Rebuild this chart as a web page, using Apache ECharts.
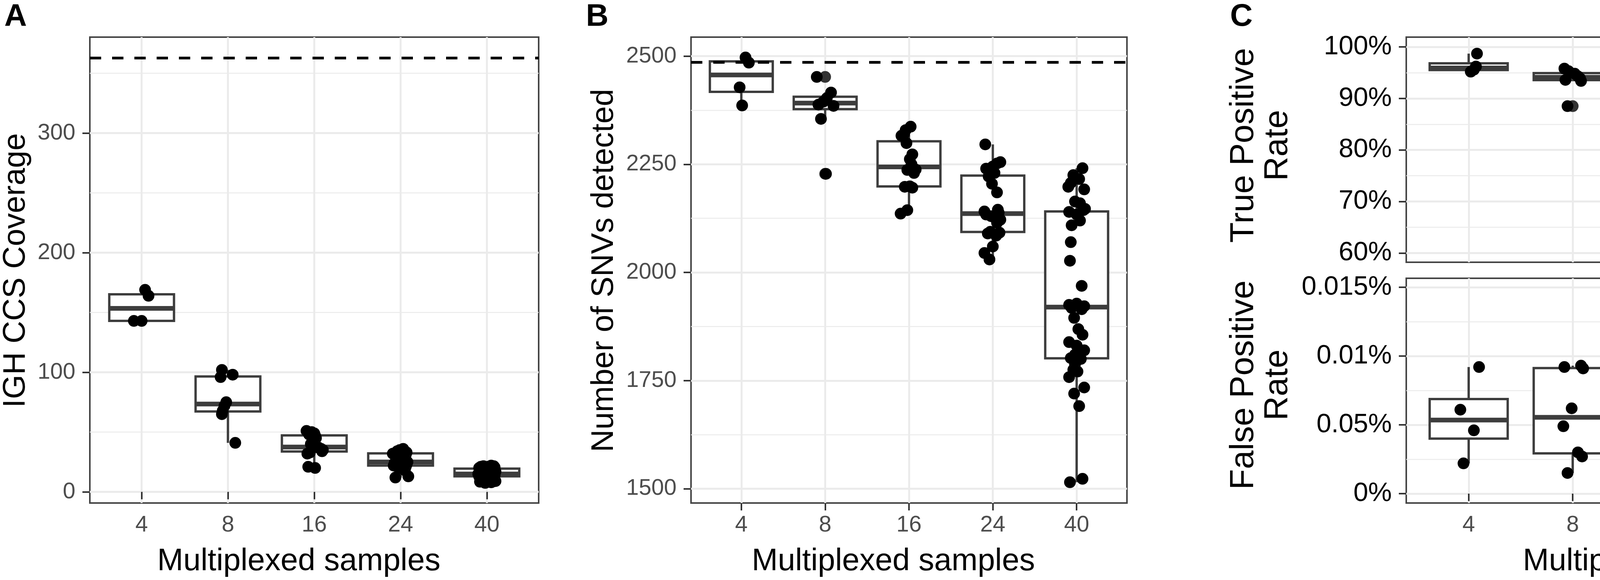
<!DOCTYPE html>
<html>
<head>
<meta charset="utf-8">
<script src="https://cdn.jsdelivr.net/npm/echarts@6/dist/echarts.min.js"></script>
<style>
  html, body { margin: 0; padding: 0; background: #fff; }
  #chart { width: 4997px; height: 1484px; }
</style>
</head>
<body>
<div id="chart"></div>
<script>
"use strict";

var xCats = ['4', '8', '16', '24', '40'];

// A - IGH CCS coverage
var covVals = [
  [169, 164, 143, 143],
  [102, 98, 96, 75, 72, 68, 65, 41],
  [51, 50, 49, 48, 47, 45, 40, 38, 37, 36, 35, 34, 33, 32, 21, 20],
  [36, 35, 34, 34, 33, 33, 32, 31, 30, 28, 26, 25, 25, 24, 24, 23, 23, 22, 22, 21, 20, 18, 13, 12],
  [22, 21.5, 21.5, 21, 21, 20.5, 20.5, 20, 20, 19.5, 19.5, 19, 18.5, 18, 17.5, 17, 16.5, 16, 15.5, 15,
   15, 15, 15, 14.5, 14.5, 14, 14, 14, 13.5, 13, 13, 12.5, 12, 11.5, 11, 10, 9, 8.5, 8, 7.5]
];
var covJit = [
  [0.04, 0.08, -0.09, 0.0],
  [-0.07, 0.055, -0.085, -0.02, -0.04, -0.06, -0.07, 0.085],
  [-0.09, -0.03, 0.0, -0.06, 0.01, 0.02, -0.04, 0.0, 0.05, 0.08, 0.1, 0.09, -0.05, -0.08, -0.07, 0.01],
  [0.03, -0.01, 0.05, -0.04, 0.07, 0.01, -0.09, 0.06, -0.06, 0.02, -0.03, 0.08, 0.04, 0.0, -0.07, 0.07,
   -0.05, 0.03, -0.08, 0.06, -0.02, 0.05, 0.09, -0.06],
  [0.05, -0.04, 0.08, 0.01, -0.07, 0.09, -0.02, 0.04, -0.09, 0.06, 0.0, -0.05, 0.07, -0.08, 0.03, 0.1,
   -0.03, 0.02, -0.06, 0.08, -0.1, 0.05, 0.0, -0.04, 0.07, 0.09, -0.07, 0.03, -0.01, 0.06, -0.09, 0.04,
   -0.06, 0.08, 0.01, -0.03, 0.1, -0.08, 0.05, -0.02]
];
var covRef = 363;
var covTicks = [0, 100, 200, 300];
var covMinor = [50, 150, 250, 350];

// B - SNVs detected
var snvVals = [
  [2497, 2485, 2428, 2386],
  [2452, 2416, 2403, 2395, 2388, 2385, 2355, 2228],
  [2337, 2329, 2320, 2316, 2299, 2273, 2262, 2250, 2238, 2237, 2230, 2199, 2198, 2196, 2144, 2136],
  [2296, 2255, 2252, 2245, 2240, 2230, 2222, 2205, 2185, 2145, 2141, 2138, 2134, 2130, 2126, 2122,
   2115, 2094, 2092, 2090, 2085, 2060, 2045, 2030],
  [2241, 2225, 2216, 2207, 2198, 2192, 2164, 2160, 2147, 2144, 2140, 2134, 2120, 2109, 2070, 2027,
   1969, 1928, 1925, 1922, 1918, 1915, 1895, 1869, 1856, 1839, 1831, 1820, 1810, 1802, 1800, 1788,
   1775, 1771, 1758, 1734, 1720, 1691, 1523, 1515]
];
var snvJit = [
  [0.05, 0.09, -0.02, 0.01],
  [-0.1, 0.07, 0.02, -0.02, -0.08, 0.1, -0.05, 0.01],
  [0.02, -0.04, -0.06, -0.09, -0.03, 0.04, 0.01, 0.03, 0.08, -0.02, 0.06, 0.01, -0.05, 0.04, -0.02, -0.1],
  [-0.09, 0.09, 0.05, 0.0, -0.08, 0.02, -0.05, -0.01, 0.05, 0.06, -0.1, 0.07, -0.08, -0.02, 0.03, 0.09,
   0.05, -0.03, 0.08, -0.06, 0.04, 0.0, -0.1, -0.04],
  [0.07, -0.04, 0.03, -0.07, -0.1, 0.09, -0.02, 0.04, 0.1, 0.08, -0.09, 0.0, 0.04, -0.06, -0.07, -0.08,
   0.06, 0.0, -0.09, 0.09, -0.06, 0.06, -0.03, 0.02, 0.07, -0.09, 0.0, 0.09, -0.02, -0.07, 0.05, -0.02,
   -0.04, 0.01, -0.09, 0.09, -0.03, 0.03, 0.07, -0.08]
];
var snvRef = 2486;
var snvTicks = [1500, 1750, 2000, 2250, 2500];
var snvMinor = [1625, 1875, 2125, 2375];

// C top - true positive rate (%)
var tprVals = [
  [98.7, 96.2, 95.6, 95.2],
  [95.8, 95.3, 94.8, 94.3, 93.9, 93.6, 93.4, 88.5],
  [93.5, 92.2, 91.6, 91.2, 91.0, 90.6, 90.2, 89.8, 89.5, 89.0, 88.4, 88.1, 87.9, 87.4, 84.4, 84.2],
  [90.8, 90.3, 89.9, 89.4, 89.0, 88.6, 88.2, 87.6, 87.0, 86.2, 85.7, 85.4, 85.0, 84.7, 84.5, 84.3,
   84.0, 83.7, 83.6, 83.3, 82.9, 82.5, 81.6, 80.2],
  [87.9, 87.6, 87.4, 87.1, 86.8, 86.5, 86.2, 85.8, 85.3, 84.9, 84.3, 84.0, 83.6, 83.0, 82.4, 80.7,
   78.8, 77.8, 76.9, 76.7, 75.3, 74.7, 74.2, 73.6, 73.2, 72.8, 72.4, 72.0, 71.7, 71.6, 71.4, 71.2,
   71.0, 70.8, 70.3, 69.8, 69.2, 67.4, 60.8, 60.4]
];
var tprJit = [
  [0.08, 0.07, 0.05, 0.02],
  [-0.08, -0.04, 0.02, 0.05, 0.07, -0.07, 0.08, -0.05],
  [0.1, -0.09, 0.06, 0.08, 0.1, 0.02, 0.08, 0.06, -0.1, 0.0, 0.05, 0.04, 0.09, 0.07, 0.0, -0.05],
  [0.0, 0.04, -0.07, 0.07, -0.03, 0.0, 0.05, -0.07, 0.03, -0.04, 0.06, 0.05, -0.02, -0.09, 0.08, 0.02,
   -0.02, 0.09, -0.05, 0.04, 0.1, 0.06, -0.09, 0.03],
  [0.05, -0.1, 0.08, -0.02, 0.1, 0.07, -0.06, -0.02, 0.09, -0.08, -0.07, 0.03, 0.03, 0.06, -0.09, 0.0,
   -0.05, 0.02, 0.03, -0.01, -0.08, -0.03, 0.05, 0.07, -0.07, 0.05, -0.04, 0.09, -0.05, 0.02, 0.07, -0.1,
   0.04, 0.08, -0.03, 0.01, -0.1, -0.04, -0.07, 0.04]
];
var tprTicks = [60, 70, 80, 90, 100];
var tprLabels = ['60%', '70%', '80%', '90%', '100%'];
var tprMinor = [65, 75, 85, 95];

// C bottom - false positive rate
var fprVals = [
  [0.0092, 0.0061, 0.0046, 0.0022],
  [0.0093, 0.0092, 0.0091, 0.0062, 0.0049, 0.0030, 0.0027, 0.0015],
  [0.0058, 0.0050, 0.0044, 0.0042, 0.0041, 0.0038, 0.0033, 0.0030, 0.0029, 0.00255, 0.0021, 0.0020,
   0.0018, 0.0014, 0.0013, 0.0005],
  [0.0057, 0.0054, 0.0047, 0.0045, 0.0042, 0.0038, 0.0036, 0.0035, 0.0034, 0.0033, 0.0032, 0.0031,
   0.0029, 0.0027, 0.0025, 0.00235, 0.0022, 0.00205, 0.0020, 0.0019, 0.0018, 0.0017, 0.00094, 0.00035],
  [0.0118, 0.0116, 0.0067, 0.0063, 0.0055, 0.0052, 0.0048, 0.0046, 0.0045, 0.0043, 0.0042, 0.0039,
   0.0036, 0.0034, 0.0032, 0.0031, 0.0030, 0.0029, 0.0028, 0.0027, 0.0026, 0.0025, 0.0023, 0.0022,
   0.0021, 0.0020, 0.0019, 0.0018, 0.0017, 0.0016, 0.0015, 0.0013, 0.0011, 0.0009, 0.0008, 0.0007,
   0.0005, 0.0003, 0.0002, 0.0001]
];
var fprJit = [
  [0.1, -0.08, 0.05, -0.05],
  [0.08, -0.08, 0.1, -0.01, -0.09, 0.05, 0.09, -0.05],
  [-0.05, 0.0, -0.1, -0.05, 0.05, 0.06, 0.08, -0.04, 0.09, 0.1, -0.05, -0.03, 0.02, 0.0, 0.05, 0.08],
  [-0.05, -0.03, 0.05, 0.08, 0.08, -0.07, 0.0, 0.06, -0.09, 0.03, -0.02, 0.07, 0.1, -0.05, 0.04, -0.08,
   -0.07, 0.02, 0.09, -0.04, 0.09, 0.05, -0.07, 0.01],
  [0.06, -0.01, -0.09, -0.02, -0.09, 0.0, 0.08, 0.07, -0.04, 0.02, -0.03, 0.05, -0.07, 0.04, 0.07, -0.05,
   0.09, -0.03, 0.03, -0.08, 0.06, 0.02, -0.06, 0.08, -0.1, 0.04, -0.02, 0.06, -0.07, 0.01, 0.1, -0.04,
   0.05, 0.07, -0.09, -0.03, 0.03, -0.06, 0.0, -0.02]
];
var fprTicks = [0, 0.005, 0.01, 0.015];
var fprLabels = ['0%', '0.05%', '0.01%', '0.015%'];
var fprMinor = [0.0025, 0.0075, 0.0125];

var FONT = 'Liberation Sans, Arial, Helvetica, sans-serif';
var BOX = '#3d3d3d';
var xPos = xCats.map(function (c, i) { return i + 1; });

// ggplot style (type 7) quantile
function quant(s, p) {
  var h = (s.length - 1) * p, lo = Math.floor(h);
  var nx = lo + 1 < s.length ? s[lo + 1] : s[lo];
  return s[lo] + (h - lo) * (nx - s[lo]);
}

function buildPanel(vals, jit) {
  var boxes = [], pts = [], outl = [];
  vals.forEach(function (g, i) {
    var s = g.slice().sort(function (a, b) { return a - b; });
    var q1 = quant(s, 0.25), md = quant(s, 0.5), q3 = quant(s, 0.75), r = 1.5 * (q3 - q1);
    var inside = s.filter(function (v) { return v >= q1 - r && v <= q3 + r; });
    boxes.push([i + 1, inside[0], q1, md, q3, inside[inside.length - 1]]);
    s.forEach(function (v) { if (v < q1 - r || v > q3 + r) outl.push([i + 1, v]); });
    g.forEach(function (v, k) { pts.push([i + 1 + jit[i][k], v]); });
  });
  return { boxes: boxes, pts: pts, outl: outl };
}

function renderBox(params, api) {
  var x = api.value(0), hw = 0.375;
  var lo = api.coord([x, api.value(1)]);
  var q1 = api.coord([x, api.value(2)]);
  var q3 = api.coord([x, api.value(4)]);
  var hi = api.coord([x, api.value(5)]);
  var bl = api.coord([x - hw, api.value(2)]);
  var tr = api.coord([x + hw, api.value(4)]);
  var mL = api.coord([x - hw, api.value(3)]);
  var mR = api.coord([x + hw, api.value(3)]);
  return {
    type: 'group',
    children: [
      { type: 'line', shape: { x1: lo[0], y1: lo[1], x2: q1[0], y2: q1[1] }, style: { stroke: BOX, lineWidth: 6 } },
      { type: 'line', shape: { x1: q3[0], y1: q3[1], x2: hi[0], y2: hi[1] }, style: { stroke: BOX, lineWidth: 6 } },
      { type: 'rect', shape: { x: bl[0], y: tr[1], width: tr[0] - bl[0], height: bl[1] - tr[1] },
        style: { fill: '#fff', stroke: BOX, lineWidth: 6 } },
      { type: 'line', shape: { x1: mL[0], y1: mL[1], x2: mR[0], y2: mR[1] }, style: { stroke: BOX, lineWidth: 12 } }
    ]
  };
}

function labelFrom(ticks, labels) {
  return function (v) {
    for (var i = 0; i < ticks.length; i++) {
      if (Math.abs(ticks[i] - v) < 1e-9) return labels[i];
    }
    return '';
  };
}

var panels = [
  { d: buildPanel(covVals, covJit), min: -9.3, max: 380.3, ticks: covTicks, minor: covMinor,
    labels: covTicks.map(String), ref: covRef, lblSize: 58, lblColor: '#4d4d4d', showX: true },
  { d: buildPanel(snvVals, snvJit), min: 1467, max: 2544, ticks: snvTicks, minor: snvMinor,
    labels: snvTicks.map(String), ref: snvRef, lblSize: 58, lblColor: '#4d4d4d', showX: true },
  { d: buildPanel(tprVals, tprJit), min: 58.2, max: 101.9, ticks: tprTicks, minor: tprMinor,
    labels: tprLabels, ref: null, lblSize: 68, lblColor: '#000', showX: false },
  { d: buildPanel(fprVals, fprJit), min: -0.00068, max: 0.01565, ticks: fprTicks, minor: fprMinor,
    labels: fprLabels, ref: null, lblSize: 68, lblColor: '#000', showX: true }
];

var grids = [
  { left: 230, top: 95, width: 1149, height: 1192 },
  { left: 1769, top: 95, width: 1116, height: 1192 },
  { left: 3600, top: 95, width: 1385, height: 576 },
  { left: 3600, top: 712, width: 1385, height: 575 }
];

var tickStyle = { color: '#333', width: 4 };
var xAxes = [], yAxes = [], series = [];

panels.forEach(function (p, i) {
  xAxes.push({
    type: 'value', gridIndex: i, min: 0.4, max: 5.6,
    axisLine: { show: false },
    axisTick: { show: p.showX, length: 19, lineStyle: tickStyle, customValues: xPos },
    axisLabel: {
      show: p.showX, customValues: xPos, margin: 28, fontSize: 58, color: '#4d4d4d', fontFamily: FONT,
      formatter: function (v) { return xCats[Math.round(v) - 1] || ''; }
    },
    splitLine: { show: true, lineStyle: { color: '#ebebeb', width: 5 } }
  });
  yAxes.push({
    type: 'value', gridIndex: i, min: p.min, max: p.max, position: 'left',
    axisLine: { show: false },
    axisTick: { show: true, length: 19, lineStyle: tickStyle, customValues: p.ticks },
    axisLabel: {
      customValues: p.ticks, margin: 37, fontSize: p.lblSize, color: p.lblColor, fontFamily: FONT,
      formatter: labelFrom(p.ticks, p.labels)
    },
    splitLine: { show: true, lineStyle: { color: '#ebebeb', width: 5 } }
  });
  // minor grid lines
  yAxes.push({
    type: 'value', gridIndex: i, min: p.min, max: p.max, position: 'left',
    axisLine: { show: false },
    axisTick: { show: false, customValues: p.minor },
    axisLabel: { show: false, customValues: p.minor },
    splitLine: { show: true, lineStyle: { color: '#ebebeb', width: 2.5 } }
  });

  series.push({
    type: 'custom', xAxisIndex: i, yAxisIndex: 2 * i, renderItem: renderBox,
    encode: { x: 0, y: [1, 2, 3, 4, 5] }, data: p.d.boxes, z: 2, silent: true
  });
  series.push({
    type: 'scatter', xAxisIndex: i, yAxisIndex: 2 * i, data: p.d.outl, symbolSize: 30,
    itemStyle: { color: '#333', opacity: 1 }, z: 3, silent: true
  });
  var pts = {
    type: 'scatter', xAxisIndex: i, yAxisIndex: 2 * i, data: p.d.pts, symbolSize: 30,
    itemStyle: { color: '#000', opacity: 1 }, z: 4, silent: true
  };
  if (p.ref !== null) {
    pts.markLine = {
      silent: true, symbol: ['none', 'none'], label: { show: false },
      lineStyle: { color: '#000', type: [29, 28], width: 7 },
      data: [{ yAxis: p.ref }]
    };
  }
  series.push(pts);
});

function txt(x, y, s, size, opts) {
  opts = opts || {};
  return {
    type: 'text', x: x, y: y, rotation: opts.rot || 0, silent: true, z: 10,
    style: {
      text: s, fill: '#000', font: (opts.bold ? 'bold ' : '') + size + 'px ' + FONT,
      align: opts.align || 'center', verticalAlign: 'middle',
      textAlign: opts.align || 'center', textVerticalAlign: 'middle',
      lineHeight: opts.lh || size
    }
  };
}

var graphics = [
  txt(11, 44, 'A', 80, { bold: true, align: 'left' }),
  txt(1500, 44, 'B', 80, { bold: true, align: 'left' }),
  txt(3149, 44, 'C', 80, { bold: true, align: 'left' }),
  txt(41, 692, 'IGH CCS Coverage', 80, { rot: Math.PI / 2 }),
  txt(1547, 692, 'Number of SNVs detected', 80, { rot: Math.PI / 2 }),
  txt(3228, 372, 'True Positive\nRate', 86, { rot: Math.PI / 2, lh: 87 }),
  txt(3228, 985, 'False Positive\nRate', 86, { rot: Math.PI / 2, lh: 87 }),
  txt(765, 1437, 'Multiplexed samples', 80),
  txt(2287, 1437, 'Multiplexed samples', 80),
  txt(4261, 1437, 'Multiplexed samples', 80)
];

var option = {
  animation: false,
  backgroundColor: '#fff',
  grid: grids.map(function (g) {
    return { left: g.left, top: g.top, width: g.width, height: g.height,
             show: true, borderColor: '#444', borderWidth: 4, backgroundColor: 'transparent' };
  }),
  xAxis: xAxes,
  yAxis: yAxes,
  series: series,
  graphic: graphics
};

var chart = echarts.init(document.getElementById('chart'), null, { renderer: 'canvas' });
chart.setOption(option);
</script>
</body>
</html>
